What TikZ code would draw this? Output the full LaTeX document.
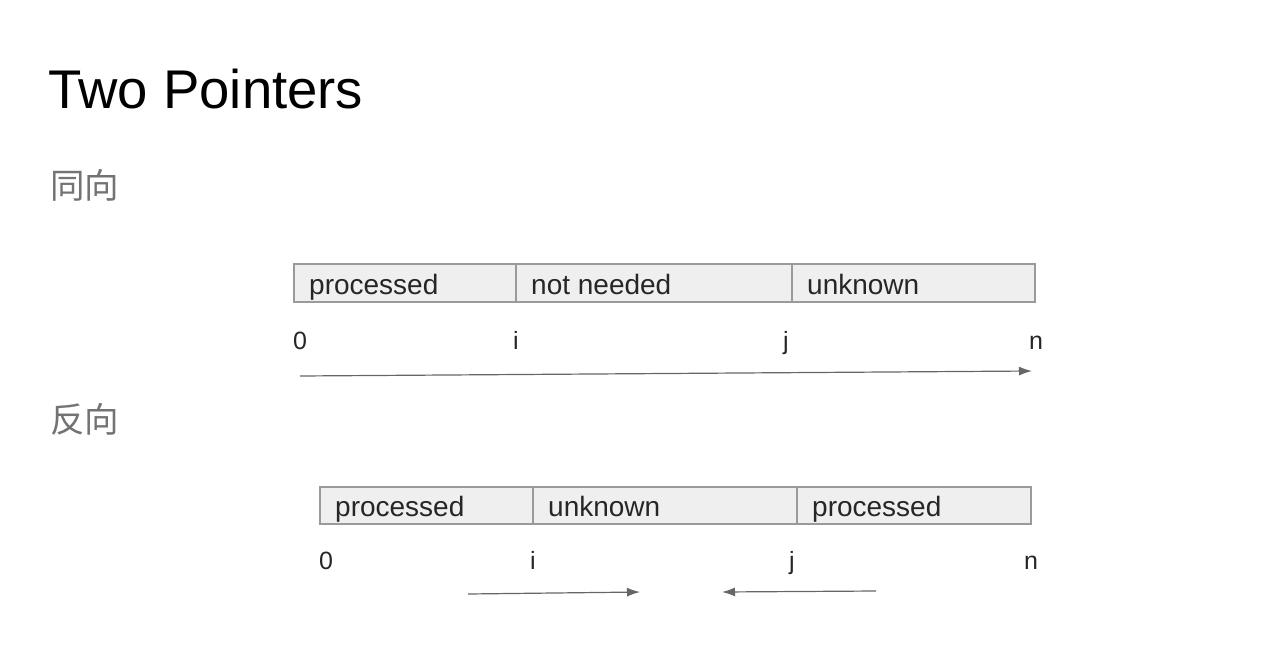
\documentclass[tikz,border=0pt]{standalone}
\usepackage{fontspec}
\setmainfont{Liberation Sans}
\newfontfamily\cjk{Noto Sans CJK SC}
\usetikzlibrary{arrows.meta}
\definecolor{cellfill}{HTML}{EFEFEF}
\definecolor{cellline}{HTML}{9A9A9A}
\definecolor{arrowcol}{HTML}{666666}
\begin{document}
\begin{tikzpicture}[x=1pt,y=-1pt,
  cell/.style={draw=cellline,fill=cellfill,line width=1.3pt},
  celltext/.style={anchor=base west,inner sep=0pt,font=\fontsize{28}{32}\selectfont,text=black!85},
  idx/.style={anchor=base west,inner sep=0pt,font=\fontsize{25}{28}\selectfont,text=black!85},
  ptr/.style={draw=arrowcol,line width=1.2pt,-{Latex[length=13pt,width=9pt]}},
  head/.style={anchor=base west,inner sep=0pt,text=black!55,font=\cjk\fontsize{34.5}{38}\selectfont}]
\useasboundingbox (0,0) rectangle (1262,672);
\node[anchor=base west,inner sep=0pt,font=\fontsize{54.5}{58}\selectfont] (title) at (48,108) {Two Pointers};
\node[head] (same) at (50,198) {同向};
\node[head] (opp) at (50,432) {反向};
% top bar
\draw[cell] (294,264) rectangle (516,302);
\draw[cell] (516,264) rectangle (792,302);
\draw[cell] (792,264) rectangle (1035,302);
\node[celltext] (t1) at (309,294) {processed};
\node[celltext] (t2) at (531,294) {not needed};
\node[celltext] (t3) at (807,294) {unknown};
\node[idx] (z1) at (293,349) {0};
\node[idx] (i1) at (513,349) {i};
\node[idx] (j1) at (783,349) {j};
\node[idx] (n1) at (1029,349) {n};
\coordinate (a1s) at (300,376);
\coordinate (a1e) at (1032,371);
\draw[ptr] (a1s) -- (a1e);
% bottom bar
\draw[cell] (320,487) rectangle (533,524);
\draw[cell] (533,487) rectangle (797,524);
\draw[cell] (797,487) rectangle (1031,524);
\node[celltext] (b1) at (335,516) {processed};
\node[celltext] (b2) at (548,516) {unknown};
\node[celltext] (b3) at (812,516) {processed};
\node[idx] (z2) at (319,569) {0};
\node[idx] (i2) at (530,569) {i};
\node[idx] (j2) at (789,569) {j};
\node[idx] (n2) at (1024,569) {n};
\coordinate (a2s) at (468,594);
\coordinate (a2e) at (640,592);
\coordinate (a3s) at (876,591);
\coordinate (a3e) at (722,592);
\draw[ptr] (a2s) -- (a2e);
\draw[ptr] (a3s) -- (a3e);
\end{tikzpicture}
\end{document}
